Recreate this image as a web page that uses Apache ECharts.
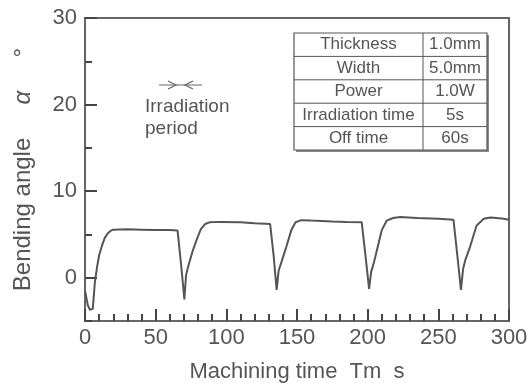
<!DOCTYPE html>
<html>
<head>
<meta charset="utf-8">
<script src="https://cdn.jsdelivr.net/npm/echarts@6/dist/echarts.min.js"></script>
<style>html,body{margin:0;padding:0;background:#fff;}#c{width:531px;height:392px;}</style>
</head>
<body>
<div id="c"></div>
<script>
// Data
var timeValues = [0, 2, 3.5, 5.5, 7, 8.5, 10, 12, 14, 16, 18, 20, 30, 40, 50, 60, 65.5, 68, 70.3, 71.5, 73, 76, 79, 82, 85, 88, 95, 110, 120, 131, 133.5, 135.6, 137, 139, 142.5, 146, 149, 153, 160, 175, 185, 195.8, 198.5, 201, 202.5, 204.5, 207, 210, 213.5, 218, 223, 235, 250, 260.7, 263.5, 266, 267.5, 269, 272.5, 277, 282, 287, 295, 300];
var angleValues = [-1.5, -3.2, -3.7, -3.6, -0.5, 1.2, 2.6, 3.7, 4.6, 5.1, 5.4, 5.55, 5.6, 5.55, 5.5, 5.5, 5.45, 1.5, -2.5, 0.3, 1.3, 3.0, 4.4, 5.6, 6.2, 6.4, 6.45, 6.4, 6.3, 6.2, 2.5, -1.4, 0.8, 1.8, 3.6, 5.5, 6.4, 6.65, 6.6, 6.5, 6.45, 6.4, 2.5, -1.3, 0.7, 1.8, 3.5, 5.5, 6.6, 6.9, 7.0, 6.9, 6.8, 6.7, 2.5, -1.4, 1.0, 2.0, 3.6, 6.0, 6.8, 6.95, 6.85, 6.7];
var yTickCategories = ['-5', '0', '5', '10', '15', '20', '25', '30'];
var tableLabels = ['Thickness', 'Width', 'Power', 'Irradiation time', 'Off time'];
var tableValues = ['1.0mm', '5.0mm', '1.0W', '5s', '60s'];

var FONT = '"Liberation Sans", Arial, sans-serif';
var TXT = '#555';
var AX = '#666';
var TICK = '#444';

var seriesData = timeValues.map(function (t, i) { return [t, angleValues[i]]; });

// Table graphic
var tX0 = 294, tX1 = 487, tXd = 423, tY0 = 33, rowH = 23.4;
var tY1 = tY0 + rowH * tableLabels.length;
var graphics = [];
graphics.push({ type: 'rect', shape: { x: tX0 + 2, y: tY0 + 2, width: tX1 - tX0, height: tY1 - tY0 }, style: { fill: '#888' }, z: 10 });
graphics.push({ type: 'rect', shape: { x: tX0, y: tY0, width: tX1 - tX0, height: tY1 - tY0 }, style: { fill: '#fff', stroke: '#555', lineWidth: 1.2 }, z: 11 });
graphics.push({ type: 'line', shape: { x1: tXd, y1: tY0, x2: tXd, y2: tY1 }, style: { stroke: '#555', lineWidth: 1 }, z: 12 });
tableLabels.forEach(function (lab, i) {
  var yc = tY0 + rowH * (i + 0.5);
  if (i > 0) {
    graphics.push({ type: 'line', shape: { x1: tX0, y1: tY0 + rowH * i, x2: tX1, y2: tY0 + rowH * i }, style: { stroke: '#555', lineWidth: 1 }, z: 12 });
  }
  graphics.push({ type: 'text', x: (tX0 + tXd) / 2, y: yc, style: { text: lab, fill: TXT, font: '17px ' + FONT, textAlign: 'center', textVerticalAlign: 'middle' }, z: 13 });
  graphics.push({ type: 'text', x: (tXd + tX1) / 2, y: yc, style: { text: tableValues[i], fill: TXT, font: '17px ' + FONT, textAlign: 'center', textVerticalAlign: 'middle' }, z: 13 });
});
// Irradiation period annotation
graphics.push({ type: 'line', shape: { x1: 159, y1: 85, x2: 202, y2: 85 }, style: { stroke: '#666', lineWidth: 1.2 }, z: 12 });
graphics.push({ type: 'polyline', shape: { points: [[168, 81], [176, 85], [168, 89]] }, style: { stroke: '#666', lineWidth: 1.2, fill: null }, z: 12 });
graphics.push({ type: 'polyline', shape: { points: [[193, 81], [185, 85], [193, 89]] }, style: { stroke: '#666', lineWidth: 1.2, fill: null }, z: 12 });
graphics.push({ type: 'text', x: 145, y: 107, style: { text: 'Irradiation', fill: TXT, font: '19px ' + FONT, textAlign: 'left', textVerticalAlign: 'middle' }, z: 12 });
graphics.push({ type: 'text', x: 145, y: 129, style: { text: 'period', fill: TXT, font: '19px ' + FONT, textAlign: 'left', textVerticalAlign: 'middle' }, z: 12 });

function isMajor(index) { return index % 2 === 1; }

var chart = echarts.init(document.getElementById('c'), null, { renderer: 'canvas' });
chart.setOption({
  backgroundColor: '#fff',
  animation: false,
  grid: { left: 85, right: 22, top: 18, bottom: 71, show: true, borderColor: AX, borderWidth: 2 },
  xAxis: {
    type: 'value', min: 0, max: 300, interval: 50,
    name: 'Machining time  Tm  s', nameLocation: 'middle', nameGap: 40,
    nameTextStyle: { fontFamily: FONT, fontSize: 22, color: TXT },
    axisLine: { show: true, onZero: false, lineStyle: { color: AX, width: 2 } },
    axisTick: { show: true, inside: true, length: 12, lineStyle: { color: TICK, width: 2 } },
    minorTick: { show: true, splitNumber: 5, length: 7, lineStyle: { color: TICK, width: 2 } },
    axisLabel: { fontFamily: FONT, fontSize: 22, color: TXT, margin: 6 },
    splitLine: { show: false }
  },
  yAxis: [{
    type: 'value', min: -5, max: 30, interval: 5,
    name: '{a|Bending angle}     {b|α}     {a|°}', nameLocation: 'middle', nameGap: 50,
    nameTextStyle: { fontFamily: FONT, fontSize: 24, color: TXT, rich: { a: { fontFamily: FONT, fontSize: 24, color: TXT }, b: { fontFamily: FONT, fontSize: 24, fontStyle: 'italic', color: TXT } } },
    axisLine: { show: true, onZero: false, lineStyle: { color: AX, width: 2 } },
    axisTick: { show: true, inside: true, length: 7, lineStyle: { color: TICK, width: 2 } },
    axisLabel: { show: false },
    splitLine: { show: false }
  }, {
    type: 'category', data: yTickCategories, boundaryGap: false, position: 'left',
    axisLine: { show: false, onZero: false },
    axisTick: { show: true, inside: true, length: 12, interval: isMajor, lineStyle: { color: TICK, width: 2 } },
    axisLabel: { fontFamily: FONT, fontSize: 22, color: TXT, margin: 8, interval: isMajor },
    splitLine: { show: false }
  }],
  series: [{
    type: 'line', data: seriesData, yAxisIndex: 0, showSymbol: false, symbol: 'none',
    lineStyle: { color: '#555', width: 2 }, smooth: false
  }],
  graphic: graphics
});
</script>
</body>
</html>
